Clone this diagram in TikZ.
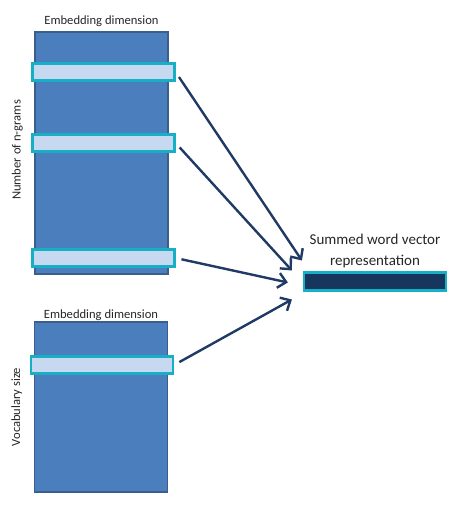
\documentclass[tikz,border=0pt]{standalone}
\usepackage{fontspec}
\setmainfont{Carlito}
\usepackage{tikz}
\usetikzlibrary{%
   arrows.meta,%
   calc,%
   positioning}

\definecolor{matfill}{HTML}{4A7EBD}
\definecolor{matedge}{HTML}{3A5F8E}
\definecolor{rowfill}{HTML}{C6D9F1}
\definecolor{rowedge}{HTML}{17AFC6}
\definecolor{sumfill}{HTML}{17365D}
\definecolor{arrowcol}{HTML}{1F3A64}

\begin{document}
\begin{tikzpicture}
			[x=1pt,y=-1pt,
			every node/.style={font=\fontsize{12.6}{15}\selectfont,text=black!85},
			big label/.style={font=\fontsize{15}{21}\selectfont},
			matrix box/.style={draw=matedge,fill=matfill,line width=1.6pt,minimum width=133pt,inner sep=0pt},
			row box/.style={draw=rowedge,fill=rowfill,line width=2.2pt,minimum width=142pt,minimum height=17pt,inner sep=0pt},
			sum box/.style={draw=rowedge,fill=sumfill,line width=2.2pt,minimum width=142pt,minimum height=18pt,inner sep=0pt},
			flow/.style={draw=arrowcol,line width=2.4pt,shorten <=6pt,-{Straight Barb[length=8pt,width=15pt,line width=2.4pt]}}]
			\useasboundingbox (0,0) rectangle (462,513);
			% n-gram embedding matrix
			\node [matrix box,minimum height=242pt] (ngrams) at (101.5,153) {};
			\node [above=1pt of ngrams] (ngramsdim) {Embedding dimension};
			\node [rotate=90,anchor=south] (ngramsnum) at ($(ngrams.west)+(-8,-3)$) {Number of n-grams};
			\node [row box] (row1) at (103.5,72) {};
			\node [row box] (row2) at (103.5,143) {};
			\node [row box] (row3) at (103.5,258) {};
			% word embedding matrix
			\node [matrix box,minimum height=170pt] (vocab) at (101,407) {};
			\node [above=-3pt of vocab] (vocabdim) {Embedding dimension};
			\node [rotate=90,anchor=south] (vocabsize) at ($(vocab.west)+(-8,0)$) {Vocabulary size};
			\node [row box] (row4) at (102,365) {};
			% summed vector
			\node [sum box] (sum) at (375,281.5) {};
			\node [big label,above=0pt of sum,align=center] (sumlabel) {Summed word vector\\representation};
			\coordinate (in1) at ($(sum.west)+(-1,-21)$);
			\coordinate (in2) at ($(sum.west)+(-11,-11)$);
			\coordinate (in3) at ($(sum.west)+(-15,1)$);
			\coordinate (in4) at ($(sum.west)+(-11,18)$);
			\draw [flow] (row1.east) -- (in1);
			\draw [flow] (row2.east) -- (in2);
			\draw [flow] (row3.east) -- (in3);
			\draw [flow] (row4.east) -- (in4);
		\end{tikzpicture}
\end{document}
